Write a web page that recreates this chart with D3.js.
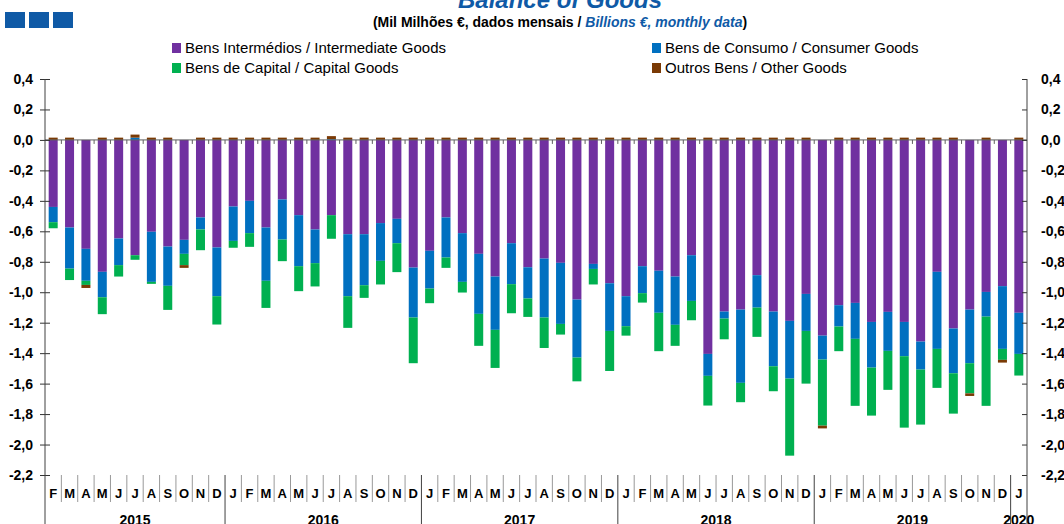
<!DOCTYPE html>
<html>
<head>
<meta charset="utf-8">
<script src="https://cdn.jsdelivr.net/npm/d3@7"></script>
<style>
  body { margin: 0; background: #fff; }
  text { font-family: "Liberation Sans", Arial, sans-serif; }
</style>
</head>
<body>
<script>
// Chart size
const width = 1064, height = 524;

// Month letters, Feb 2015 .. Jan 2020
const months = [
  "F","M","A","M","J","J","A","S","O","N","D",
  "J","F","M","A","M","J","J","A","S","O","N","D",
  "J","F","M","A","M","J","J","A","S","O","N","D",
  "J","F","M","A","M","J","J","A","S","O","N","D",
  "J","F","M","A","M","J","J","A","S","O","N","D",
  "J"
];
const yearLabels = ["2015", "2016", "2017", "2018", "2019", "2020"];
const yearCounts = [11, 12, 12, 12, 12, 1];

// Series values (mil milhões €)
const intermediate = [
  -0.44, -0.575, -0.715, -0.866, -0.647, -0.757, -0.603, -0.70, -0.656, -0.509, -0.706,
  -0.437, -0.40, -0.575, -0.391, -0.494, -0.588, -0.494, -0.619, -0.619, -0.546, -0.518, -0.838,
  -0.728, -0.509, -0.612, -0.748, -0.897, -0.678, -0.836, -0.779, -0.807, -1.048, -0.814, -0.941,
  -1.026, -0.829, -0.859, -0.897, -0.757, -1.405, -1.127, -1.114, -0.888, -1.127, -1.188, -1.011,
  -1.285, -1.085, -1.07, -1.195, -1.129, -1.195, -1.324, -0.866, -1.238, -1.114, -0.998, -0.96,
  -1.135
];
const consumer = [
  -0.10, -0.27, -0.21, -0.167, -0.175, 0.015, -0.329, -0.258, -0.092, -0.079, -0.32,
  -0.226, -0.212, -0.35, -0.263, -0.335, -0.221, 0.005, -0.407, -0.335, -0.248, -0.16, -0.328,
  -0.248, -0.263, -0.32, -0.394, -0.35, -0.269, -0.205, -0.387, -0.401, -0.381, -0.033, -0.313,
  -0.197, -0.177, -0.276, -0.317, -0.30, -0.144, -0.046, -0.481, -0.213, -0.359, -0.379, -0.243,
  -0.157, -0.14, -0.236, -0.30, -0.256, -0.225, -0.184, -0.506, -0.294, -0.352, -0.162, -0.412,
  -0.27
];
const capital = [
  -0.04, -0.075, -0.027, -0.111, -0.075, -0.03, -0.013, -0.158, -0.074, -0.136, -0.186,
  -0.045, -0.09, -0.178, -0.142, -0.164, -0.153, -0.155, -0.208, -0.083, -0.155, -0.19, -0.30,
  -0.096, -0.068, -0.07, -0.21, -0.25, -0.191, -0.121, -0.2, -0.07, -0.156, -0.102, -0.263,
  -0.062, -0.062, -0.252, -0.138, -0.127, -0.195, -0.136, -0.127, -0.192, -0.164, -0.506, -0.346,
  -0.434, -0.162, -0.44, -0.315, -0.256, -0.469, -0.361, -0.256, -0.265, -0.198, -0.586, -0.072,
  -0.142
];
const other = [
  0.015, 0.015, -0.02, 0.015, 0.015, 0.02, 0.015, 0.015, -0.018, 0.015, 0.015,
  0.015, 0.015, 0.015, 0.015, 0.015, 0.015, 0.02, 0.015, 0.015, 0.015, 0.015, 0.015,
  0.015, 0.015, 0.015, 0.015, 0.015, 0.015, 0.015, 0.015, 0.015, 0.015, 0.015, 0.015,
  0.015, 0.015, 0.015, 0.015, 0.015, 0.015, 0.015, 0.015, 0.015, 0.015, 0.015, 0.015,
  -0.018, 0.015, 0.015, 0.015, 0.015, 0.015, 0.015, 0.015, 0.015, -0.017, 0.015, -0.018,
  0.015
];

const yTicks = [0.4, 0.2, 0, -0.2, -0.4, -0.6, -0.8, -1.0, -1.2, -1.4, -1.6, -1.8, -2.0, -2.2];

const series = [
  { key: "intermediate", label: "Bens Intermédios / Intermediate Goods", color: "#7030A0" },
  { key: "consumer", label: "Bens de Consumo / Consumer Goods", color: "#0070C0" },
  { key: "capital", label: "Bens de Capital / Capital Goods", color: "#00B050" },
  { key: "other", label: "Outros Bens / Other Goods", color: "#7A3A05" }
];

// Table for the stack layout
const table = months.map((m, i) => ({
  i: i, intermediate: intermediate[i], consumer: consumer[i],
  capital: capital[i], other: other[i]
}));

const svg = d3.select("body").append("svg")
    .attr("width", width)
    .attr("height", height);

// Scales
const x = d3.scaleBand()
    .domain(d3.range(months.length))
    .range([45, 1027])
    .paddingInner(0.45)
    .paddingOuter(0.225);

const y = d3.scaleLinear()
    .domain([-2.2, 0.4])
    .range([475, 79]);

const fmt = d3.formatLocale({ decimal: ",", thousands: ".", grouping: [3], currency: ["", "€"], minus: "-" }).format(".1f");

// Header: three blue squares, title, subtitle
svg.selectAll(".hdr")
    .data([0, 1, 2])
    .enter().append("rect")
    .attr("x", d => 5 + d * 24)
    .attr("y", 12)
    .attr("width", 20)
    .attr("height", 16)
    .attr("fill", "#0F5AA6");

svg.append("text")
    .attr("x", 560).attr("y", 8)
    .attr("text-anchor", "middle")
    .style("font-size", "24px").style("font-weight", "bold").style("font-style", "italic")
    .attr("fill", "#0F5AA6")
    .text("Balance of Goods");

const sub = svg.append("text")
    .attr("x", 560).attr("y", 27)
    .attr("text-anchor", "middle")
    .style("font-family", "'Liberation Sans Narrow', 'Arial Narrow', sans-serif")
    .style("font-size", "14px").style("font-weight", "bold");
sub.append("tspan").attr("fill", "#000").text("(Mil Milhões €, dados mensais / ");
sub.append("tspan").attr("fill", "#0F5AA6").style("font-style", "italic").text("Billions  €, monthly data");
sub.append("tspan").attr("fill", "#000").text(")");

// Legend
const legendPos = [[172, 43], [652, 43], [172, 63], [652, 63]];
const legend = svg.selectAll(".legend")
    .data(series)
    .enter().append("g")
    .attr("transform", (d, i) => `translate(${legendPos[i][0]},${legendPos[i][1]})`);
legend.append("rect")
    .attr("width", 9).attr("height", 10)
    .attr("fill", d => d.color);
legend.append("text")
    .attr("x", 13).attr("y", 10)
    .style("font-size", "15px")
    .text(d => d.label);

// Stacked bars
const stack = d3.stack()
    .keys(series.map(s => s.key))
    .offset(d3.stackOffsetDiverging);

svg.append("g")
    .selectAll("g")
    .data(stack(table))
    .enter().append("g")
    .attr("fill", (d, i) => series[i].color)
    .selectAll("rect")
    .data(d => d)
    .enter().append("rect")
    .attr("x", d => x(d.data.i))
    .attr("width", x.bandwidth())
    .attr("y", d => y(d[1]))
    .attr("height", d => Math.max(0, y(d[0]) - y(d[1])));

// Slot boundaries
const slot0 = x(0) - x.step() * x.paddingInner() / 2;
const bounds = d3.range(months.length + 1).map(k => slot0 + k * x.step());

// Zero line with small ticks
svg.append("line")
    .attr("x1", 45).attr("x2", 1027)
    .attr("y1", y(0)).attr("y2", y(0))
    .attr("stroke", "#606060").attr("stroke-width", 1);
svg.append("g")
    .selectAll("line")
    .data(bounds.slice(1, -1))
    .enter().append("line")
    .attr("x1", d => d).attr("x2", d => d)
    .attr("y1", y(0)).attr("y2", y(0) + 4)
    .attr("stroke", "#606060");

// Y axes
const yLeft = svg.append("g")
    .attr("transform", "translate(45,0)")
    .call(d3.axisLeft(y).tickValues(yTicks).tickFormat(fmt).tickSize(5).tickPadding(7));
yLeft.select(".domain").remove();
yLeft.selectAll(".tick line").attr("x1", 5).attr("x2", -5).attr("stroke", "#333");

const yRight = svg.append("g")
    .attr("transform", "translate(1027,0)")
    .call(d3.axisRight(y).tickValues(yTicks).tickFormat(fmt).tickSize(-5).tickPadding(14));
yRight.select(".domain").remove();
yRight.selectAll(".tick line").attr("stroke", "#333");

svg.selectAll(".tick text")
    .style("font-family", "'Liberation Sans', Arial, sans-serif")
    .style("font-size", "14px").style("font-weight", "bold").attr("fill", "#000");

// Axis lines run down to the bottom
[45, 1027].forEach(px => {
  svg.append("line")
      .attr("x1", px).attr("x2", px)
      .attr("y1", y(0.4)).attr("y2", height)
      .attr("stroke", "#404040");
});

// Month separators and year separators
const yearEnds = Array.from(d3.cumsum(yearCounts));
svg.append("g")
    .selectAll("line")
    .data(bounds.slice(1, -1).map((b, k) => ({ b: b, year: yearEnds.includes(k + 1) })))
    .enter().append("line")
    .attr("x1", d => d.b).attr("x2", d => d.b)
    .attr("y1", 475)
    .attr("y2", d => d.year ? height : 502)
    .attr("stroke", d => d.year ? "#404040" : "#999");

// Month labels
svg.append("g")
    .selectAll("text")
    .data(months)
    .enter().append("text")
    .attr("x", (d, i) => x(i) + x.bandwidth() / 2)
    .attr("y", 498)
    .attr("text-anchor", "middle")
    .style("font-size", "13px").style("font-weight", "bold")
    .text(d => d);

// Year labels
const yearStarts = [0].concat(yearEnds.slice(0, -1));
svg.append("g")
    .selectAll("text")
    .data(yearLabels)
    .enter().append("text")
    .attr("x", (d, i) => (bounds[yearStarts[i]] + bounds[yearStarts[i] + yearCounts[i]]) / 2)
    .attr("y", 525)
    .attr("text-anchor", "middle")
    .style("font-size", "14px").style("font-weight", "bold")
    .text(d => d);
</script>
</body>
</html>
